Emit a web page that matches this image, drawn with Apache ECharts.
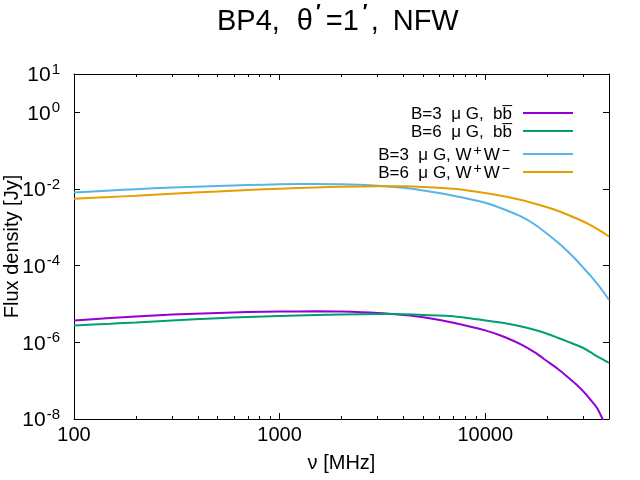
<!DOCTYPE html>
<html>
<head>
<meta charset="utf-8">
<script src="https://cdn.jsdelivr.net/npm/echarts@6/dist/echarts.min.js"></script>
<style>html,body{margin:0;padding:0;background:#fff}#main{width:640px;height:480px}</style>
</head>
<body>
<div id="main"></div>
<script>
// 频率 (MHz)
var freq = [100, 150, 200, 300, 500, 700, 1000, 1500, 2000, 3000, 4000, 5000, 7000,
	10000, 12500, 15000, 17500, 20000, 22500, 25000, 27500, 30000, 32500, 35000, 37500, 40000];
// Flux density [Jy]
var bb3 = [3.73e-6, 4.31e-6, 4.74e-6, 5.32e-6, 5.85e-6, 6.18e-6, 6.36e-6, 6.44e-6, 6.33e-6, 5.82e-6, 5.16e-6, 4.52e-6, 3.25e-6,
	2.05e-6, 1.36e-6, 8.66e-7, 5.36e-7, 3.22e-7, 2.05e-7, 1.29e-7, 8.32e-8, 5.24e-8, 3.18e-8, 1.93e-8, 9.29e-9, 4.94e-9];
var bb6 = [2.75e-6, 3.06e-6, 3.31e-6, 3.73e-6, 4.26e-6, 4.60e-6, 4.89e-6, 5.19e-6, 5.35e-6, 5.48e-6, 5.41e-6, 5.19e-6, 4.80e-6,
	3.73e-6, 3.15e-6, 2.60e-6, 2.10e-6, 1.68e-6, 1.32e-6, 1.06e-6, 8.66e-7, 7.11e-7, 5.52e-7, 4.29e-7, 3.52e-7, 2.89e-7];
var ww3 = [8.15e-3, 9.13e-3, 9.87e-3, 1.094e-2, 1.204e-2, 1.271e-2, 1.326e-2, 1.350e-2, 1.334e-2, 1.219e-2, 1.080e-2, 9.13e-3, 6.68e-3,
	4.39e-3, 2.88e-3, 1.892e-3, 1.170e-3, 6.82e-4, 4.09e-4, 2.455e-4, 1.473e-4, 8.84e-5, 5.47e-5, 3.38e-5, 2.09e-5, 1.293e-5];
var ww6 = [5.58e-3, 6.18e-3, 6.68e-3, 7.54e-3, 8.60e-3, 9.41e-3, 1.018e-2, 1.094e-2, 1.148e-2, 1.175e-2, 1.175e-2, 1.134e-2, 1.018e-2,
	7.86e-3, 6.37e-3, 5.16e-3, 4.13e-3, 3.35e-3, 2.71e-3, 2.16e-3, 1.75e-3, 1.418e-3, 1.136e-3, 9.10e-4, 7.24e-4, 5.80e-4];

var seriesNames = ['B=3 μG, bb̅', 'B=6 μG, bb̅', 'B=3 μG, W+W-', 'B=6 μG, W+W-'];
var legendRich = [
	'{t|B=3  μ G,  bb\u0305}',
	'{t|B=6  μ G,  bb\u0305}',
	'{t|B=3  μ G, W}{s|+}{t|W}{s|\u2212}',
	'{t|B=6  μ G, W}{s|+}{t|W}{s|\u2212}'
];
var colors = ['#9400d3', '#009e73', '#56b4e9', '#e69f00'];
var allData = [bb3, bb6, ww3, ww6];
var decades = [100, 1000, 10000];

var FONT = 'Liberation Sans, Arial, sans-serif';
var X_MAX = 40000;

// 次刻度 (log10 位置)
function minorTicks(){
	var res = [];
	decades.forEach(function(d){
		for(var k = 2; k < 10; k++){
			if (k * d < X_MAX) res.push(Math.log10(k * d));
		}
	});
	return res;
}

function pairs(vals){
	return freq.map(function(f, i){ return [f, vals[i]]; });
}

function lineSeries(i){
	return {
		name: seriesNames[i],
		type: 'line',
		xAxisIndex: 0,
		yAxisIndex: 0,
		smooth: 0.2,
		showSymbol: false,
		symbol: 'none',
		color: colors[i],
		lineStyle: { color: colors[i], width: 2 },
		data: pairs(allData[i])
	};
}

// 图例：每行一个，右对齐
var legendRowY = [116, 134, 154, 172];
function legendItem(i){
	return {
		data: [seriesNames[i]],
		right: 67, top: legendRowY[i] - 10,
		orient: 'vertical',
		align: 'right',
		icon: 'rect',
		itemWidth: 50, itemHeight: 2,
		padding: 0,
		selectedMode: false,
		formatter: function(){ return legendRich[i]; },
		textStyle: {
			color: '#000',
			padding: [0, 6, 0, 0],
			rich: {
				t: { fontSize: 17, fontFamily: FONT, color: '#000', verticalAlign: 'bottom', lineHeight: 20 },
				s: { fontSize: 14, fontFamily: FONT, color: '#000', verticalAlign: 'top', lineHeight: 20, padding: [0, 2, 0, 2] }
			}
		}
	};
}

var logX = Math.log10(X_MAX);
var tickCommon = { show: true, inside: true, length: 6, lineStyle: { color: '#000', width: 1 } };
var lineCommon = { show: true, lineStyle: { color: '#000', width: 1 } };
var titleBase = { fontSize: 29, fontWeight: 'normal', fontFamily: FONT, color: '#000', verticalAlign: 'bottom', lineHeight: 34 };

var chart = echarts.init(document.getElementById('main'));
chart.setOption({
	animation: false,
	title: {
		text: '{a|BP4,}{g|θ}{p|\u2032}{a|=1}{q|\u2032}{a|,}{n|NFW}',
		left: 217, top: 2,
		padding: 0,
		textAlign: 'left',
		textStyle: {
			rich: {
				a: titleBase,
				g: echarts.util.extend({ padding: [0, 0, 0, 17] }, titleBase),
				n: echarts.util.extend({ padding: [0, 0, 0, 14], fontSize: 31 }, titleBase),
				p: { fontSize: 20, fontFamily: FONT, color: '#000', verticalAlign: 'top', lineHeight: 34, padding: [0, 5, 0, 3] },
				q: { fontSize: 20, fontFamily: FONT, color: '#000', verticalAlign: 'top', lineHeight: 34, padding: [0, 3, 0, 4] }
			}
		}
	},
	legend: [0, 1, 2, 3].map(legendItem),
	grid: { left: 74, right: 31, top: 74, bottom: 61, outerBoundsMode: 'none' },
	xAxis: [
		{	// 主轴
			type: 'log', logBase: 10, min: 100, max: X_MAX, interval: 1,
			position: 'bottom',
			axisLine: lineCommon,
			axisTick: tickCommon,
			splitLine: { show: false },
			axisLabel: {
				color: '#000', fontSize: 20, fontFamily: FONT, margin: 6,
				showMaxLabel: false,
				formatter: function(v){ return String(Math.round(v)); }
			},
			name: 'ν [MHz]', nameLocation: 'middle', nameGap: 34,
			nameTextStyle: { color: '#000', fontSize: 20, fontFamily: FONT }
		},{	// 上边框
			type: 'log', logBase: 10, min: 100, max: X_MAX, interval: 1,
			position: 'top',
			axisLine: lineCommon,
			axisTick: tickCommon,
			splitLine: { show: false },
			axisLabel: { show: false }
		},{	// 下次刻度
			type: 'value', min: 2, max: logX,
			position: 'bottom',
			axisLine: { show: false },
			axisTick: { show: true, inside: true, length: 3, lineStyle: { color: '#000' }, customValues: minorTicks() },
			splitLine: { show: false },
			axisLabel: { show: false }
		},{	// 上次刻度
			type: 'value', min: 2, max: logX,
			position: 'top',
			axisLine: { show: false },
			axisTick: { show: true, inside: true, length: 3, lineStyle: { color: '#000' }, customValues: minorTicks() },
			splitLine: { show: false },
			axisLabel: { show: false }
		}
	],
	yAxis: [
		{
			type: 'log', logBase: 10, min: 1e-8, max: 10, interval: 2,
			position: 'left',
			axisLine: lineCommon,
			axisTick: tickCommon,
			splitLine: { show: false },
			axisLabel: {
				margin: 14,
				formatter: function(v){ return '{b|10}{e|' + Math.round(Math.log10(v)) + '}'; },
				rich: {
					b: { fontSize: 21, fontFamily: FONT, color: '#000', verticalAlign: 'bottom', lineHeight: 24 },
					e: { fontSize: 15, fontFamily: FONT, color: '#000', verticalAlign: 'top', lineHeight: 24, padding: [0, 0, 0, 1] }
				}
			},
			name: 'Flux density [Jy]', nameLocation: 'middle', nameGap: 52,
			nameMoveOverlap: false,
			nameTextStyle: { color: '#000', fontSize: 20, fontFamily: FONT }
		},{
			type: 'log', logBase: 10, min: 1e-8, max: 10, interval: 2,
			position: 'right',
			axisLine: lineCommon,
			axisTick: tickCommon,
			splitLine: { show: false },
			axisLabel: { show: false }
		}
	],
	series: [0, 1, 2, 3].map(lineSeries)
});
</script>
</body>
</html>
